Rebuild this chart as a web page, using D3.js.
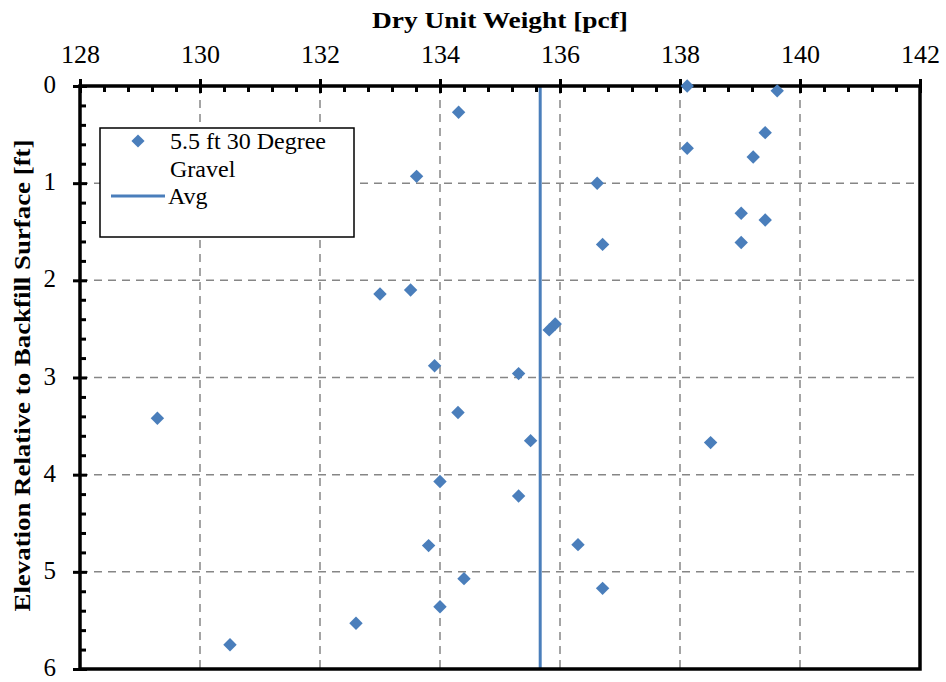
<!DOCTYPE html>
<html>
<head>
<meta charset="utf-8">
<script src="https://cdn.jsdelivr.net/npm/d3@7"></script>
<style>
  html, body { margin: 0; padding: 0; background: #fff; }
  svg text { font-family: "Liberation Serif", "Times New Roman", serif !important; fill: #000; }
</style>
</head>
<body>
<svg id="chart" width="946" height="682"></svg>
<script>
// Dry unit weight [pcf] measured at each elevation below the backfill surface [ft]
const dryUnitWeight = [
  138.12, 139.62, 134.31, 139.42, 138.12, 139.22, 133.61, 136.62,
  139.02, 139.42, 139.02, 136.71, 133.51, 133.00, 135.92, 135.82,
  133.91, 135.31, 129.29, 134.30, 135.51, 138.51, 134.00, 135.31,
  133.81, 136.30, 134.40, 136.71, 134.00, 132.60, 130.50
];
const elevation = [
  0.00, 0.05, 0.27, 0.48, 0.64, 0.73, 0.93, 1.00,
  1.31, 1.38, 1.61, 1.63, 2.10, 2.14, 2.45, 2.51,
  2.88, 2.96, 3.42, 3.36, 3.65, 3.67, 4.07, 4.22,
  4.73, 4.72, 5.07, 5.17, 5.36, 5.53, 5.75
];
const averageWeight = [135.67];
const xTicks = [128, 130, 132, 134, 136, 138, 140, 142];
const yTicks = [0, 1, 2, 3, 4, 5, 6];
const seriesName = ["5.5 ft 30 Degree", "Gravel"];
const avgName = "Avg";

const blue = "#4a7ebb";
const svg = d3.select("#chart");
const margin = { left: 80, right: 26, top: 86, bottom: 13 };
const W = 946, H = 682;

const x = d3.scaleLinear().domain([128, 142]).range([margin.left, W - margin.right]);
const y = d3.scaleLinear().domain([0, 6]).range([margin.top, H - margin.bottom]);

// Dashed grid
const grid = svg.append("g");
grid.selectAll("line.vx").data(xTicks.slice(1, -1)).join("line")
  .attr("x1", d => x(d)).attr("x2", d => x(d))
  .attr("y1", y(0)).attr("y2", y(6))
  .attr("stroke", "#868686").attr("stroke-width", 1.5).attr("stroke-dasharray", "8,6");
grid.selectAll("line.hy").data(yTicks.slice(1, -1)).join("line")
  .attr("x1", x(128)).attr("x2", x(142))
  .attr("y1", d => y(d)).attr("y2", d => y(d))
  .attr("stroke", "#868686").attr("stroke-width", 1.5).attr("stroke-dasharray", "8,6");

// Top axis: minor ticks point inward, majors cross the line
const topMinor = d3.range(128, 142.001, 0.4).filter(v => Math.abs(v / 2 - Math.round(v / 2)) > 1e-6);
svg.append("g").attr("transform", `translate(0,${y(0)})`)
  .call(d3.axisTop(x).tickValues(topMinor).tickSize(-6).tickFormat(""))
  .call(g => g.select(".domain").remove())
  .call(g => g.selectAll("line").attr("stroke", "#000").attr("stroke-width", 3));
svg.append("g").attr("transform", `translate(0,${y(0)})`)
  .call(d3.axisTop(x).tickValues(xTicks).tickFormat(d3.format("d"))
    .tickSizeInner(7).tickSizeOuter(0).tickPadding(16))
  .call(g => g.select(".domain").remove())
  .call(g => g.selectAll(".tick line").attr("y2", -7).attr("y1", 7).attr("stroke", "#000").attr("stroke-width", 3))
  .call(g => g.selectAll("text").attr("font-size", 26));

// Left axis
const leftMinor = d3.range(0, 6.001, 0.2).filter(v => Math.abs(v - Math.round(v)) > 1e-6);
svg.append("g").attr("transform", `translate(${x(128)},0)`)
  .call(d3.axisLeft(y).tickValues(leftMinor).tickSize(-6).tickFormat(""))
  .call(g => g.select(".domain").remove())
  .call(g => g.selectAll("line").attr("stroke", "#000").attr("stroke-width", 3));
svg.append("g").attr("transform", `translate(${x(128)},0)`)
  .call(d3.axisLeft(y).tickValues(yTicks).tickFormat(d3.format("d"))
    .tickSizeInner(7).tickSizeOuter(0).tickPadding(17))
  .call(g => g.select(".domain").remove())
  .call(g => g.selectAll(".tick line").attr("x1", 7).attr("x2", -7).attr("stroke", "#000").attr("stroke-width", 3))
  .call(g => g.selectAll("text").attr("font-size", 25).attr("dy", "0.26em"));

// Average line
svg.selectAll("line.avg").data(averageWeight).join("line")
  .attr("x1", d => x(d)).attr("x2", d => x(d))
  .attr("y1", y(0)).attr("y2", y(6))
  .attr("stroke", blue).attr("stroke-width", 3);

// Plot frame
svg.append("rect")
  .attr("x", x(128)).attr("y", y(0))
  .attr("width", x(142) - x(128)).attr("height", y(6) - y(0))
  .attr("fill", "none").attr("stroke", "#000").attr("stroke-width", 3.5);

// Diamond markers
const diamond = d3.symbol().type(d3.symbolDiamond2).size(115);
svg.append("g").selectAll("path").data(dryUnitWeight).join("path")
  .attr("d", diamond)
  .attr("transform", (d, i) => `translate(${x(d)},${y(elevation[i])})`)
  .attr("fill", blue);

// Legend
const lg = svg.append("g");
lg.append("rect").attr("x", 100).attr("y", 128).attr("width", 254).attr("height", 109)
  .attr("fill", "#fff").attr("stroke", "#000").attr("stroke-width", 1.5);
lg.append("path").attr("d", d3.symbol().type(d3.symbolDiamond2).size(110)())
  .attr("transform", "translate(138,141)").attr("fill", blue);
lg.selectAll("text.s").data(seriesName).join("text")
  .attr("x", 170).attr("y", (d, i) => 149 + i * 28)
  .attr("font-size", 24).text(d => d);
lg.append("line").attr("x1", 111).attr("x2", 165).attr("y1", 196).attr("y2", 196)
  .attr("stroke", blue).attr("stroke-width", 3);
lg.append("text").attr("x", 168).attr("y", 204).attr("font-size", 24).text(avgName);

// Axis titles
svg.append("text").attr("x", x(135)).attr("y", 28).attr("text-anchor", "middle")
  .attr("font-size", 24).attr("font-weight", "bold")
  .attr("textLength", 256).attr("lengthAdjust", "spacingAndGlyphs")
  .text("Dry Unit Weight [pcf]");
svg.append("text").attr("transform", `translate(30,${y(3) - 2}) rotate(-90)`)
  .attr("text-anchor", "middle").attr("font-size", 23).attr("font-weight", "bold")
  .attr("textLength", 472).attr("lengthAdjust", "spacingAndGlyphs")
  .text("Elevation Relative to Backfill Surface [ft]");
</script>
</body>
</html>
